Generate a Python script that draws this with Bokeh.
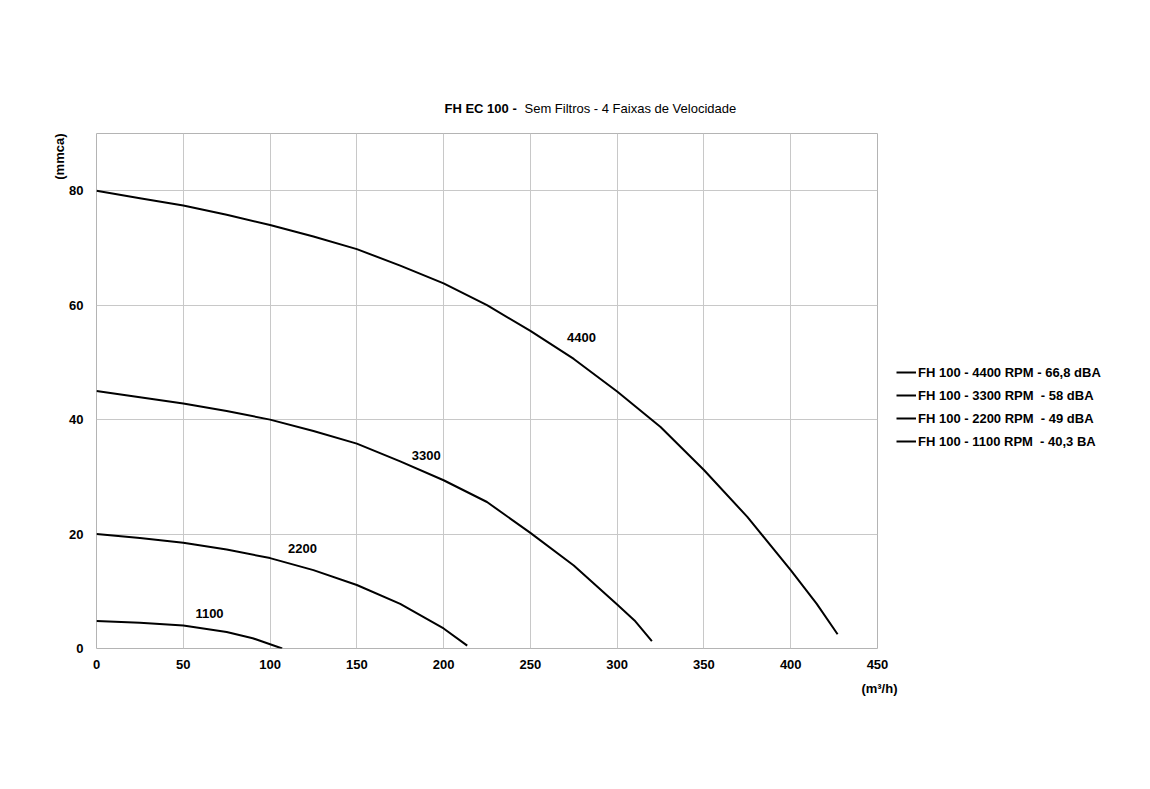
import math
from bokeh.plotting import figure
from bokeh.models import Range1d, FixedTicker, Label, Legend, LegendItem, Title
from bokeh.embed import file_html
from bokeh.resources import INLINE

# ---- data ----
x4400 = [0, 25, 50, 75, 100, 125, 150, 175, 200, 225, 250, 275, 300, 325, 350, 375, 400, 415, 427]
y4400 = [80.0, 78.7, 77.4, 75.8, 74.0, 72.0, 69.8, 66.9, 63.8, 60.0, 55.5, 50.6, 44.9, 38.7, 31.2, 23.0, 13.7, 7.8, 2.5]

x3300 = [0, 25, 50, 75, 100, 125, 150, 175, 200, 225, 250, 275, 300, 310, 320]
y3300 = [45.0, 43.9, 42.8, 41.5, 40.0, 38.0, 35.8, 32.7, 29.4, 25.6, 20.2, 14.5, 7.7, 4.9, 1.3]

x2200 = [0, 25, 50, 75, 100, 125, 150, 175, 200, 213.6]
y2200 = [20.0, 19.3, 18.5, 17.3, 15.8, 13.7, 11.1, 7.8, 3.5, 0.5]

x1100 = [0, 25, 50, 75, 90, 107]
y1100 = [4.8, 4.5, 4.0, 2.9, 1.8, 0.0]

curve_labels = ["4400", "3300", "2200", "1100"]
curve_label_x = [279.4, 190.0, 118.7, 65.1]
curve_label_y = [54.4, 33.8, 17.5, 6.1]

legend_labels = [
    "FH 100 - 4400 RPM - 66,8 dBA",
    "FH 100 - 3300 RPM  - 58 dBA",
    "FH 100 - 2200 RPM  - 49 dBA",
    "FH 100 - 1100 RPM  - 40,3 BA",
]

x_ticks = [0, 50, 100, 150, 200, 250, 300, 350, 400, 450]
y_ticks = [0, 20, 40, 60, 80]

title_bold = "FH EC 100 -"
title_rest = "Sem Filtros - 4 Faixas de Velocidade"
y_title = "(mmca)"
x_title = "(m³/h)"

FONT = "Liberation Sans"

p = figure(frame_width=781, frame_height=515, output_backend="svg", toolbar_location=None,
           x_range=Range1d(0, 450), y_range=Range1d(0, 90),
           min_border_left=96, min_border_top=133, min_border_right=10, min_border_bottom=100)
p.background_fill_color = "white"
p.border_fill_color = "white"
p.outline_line_color = "#b4b4b4"
p.outline_line_width = 1

for ax in (p.xaxis[0], p.yaxis[0]):
    ax.axis_line_color = None
    ax.major_tick_line_color = None
    ax.minor_tick_line_color = None
    ax.major_tick_out = 0
    ax.major_tick_in = 0
    ax.minor_tick_out = 0
    ax.minor_tick_in = 0
    ax.major_label_text_font = FONT
    ax.major_label_text_font_style = "bold"
    ax.major_label_text_font_size = "13px"
    ax.major_label_text_color = "black"
p.xaxis[0].ticker = FixedTicker(ticks=x_ticks)
p.yaxis[0].ticker = FixedTicker(ticks=y_ticks)
p.xaxis[0].major_label_standoff = 11
p.yaxis[0].major_label_standoff = 13

p.xgrid[0].ticker = FixedTicker(ticks=x_ticks)
p.ygrid[0].ticker = FixedTicker(ticks=y_ticks)
p.xgrid.grid_line_color = "#c8c8c8"
p.ygrid.grid_line_color = "#c8c8c8"

series = [(x4400, y4400), (x3300, y3300), (x2200, y2200), (x1100, y1100)]
renderers = []
for xs, ys in series:
    renderers.append(p.line(xs, ys, line_color="black", line_width=2, line_join="round"))

for t, lx, ly in zip(curve_labels, curve_label_x, curve_label_y):
    p.add_layout(Label(x=lx, y=ly, text=t, text_font=FONT, text_font_style="bold",
                       text_font_size="13px", text_align="center", text_baseline="middle",
                       text_color="black"))

# title: normal part nearest to frame, bold part pulled down to the same line
p.add_layout(Title(text=title_rest, align="left", offset=428, standoff=35, text_font=FONT,
                   text_font_style="normal", text_font_size="13px", text_color="black"), "above")
p.add_layout(Title(text=title_bold, align="left", offset=348, standoff=-69, text_font=FONT,
                   text_font_style="bold", text_font_size="13px", text_color="black"), "above")

# axis titles
p.add_layout(Title(text=y_title, align="right", text_font=FONT, text_font_style="bold",
                   text_font_size="13px", text_color="black", offset=0, standoff=0), "left")
p.add_layout(Title(text=x_title, align="right", text_font=FONT, text_font_style="bold",
                   text_font_size="13px", text_color="black", offset=-20, standoff=14), "below")

items = [LegendItem(label=l, renderers=[r]) for l, r in zip(legend_labels, renderers)]
legend = Legend(items=items, location=(19, 199), orientation="vertical",
                border_line_color=None, background_fill_color=None,
                label_text_font=FONT, label_text_font_style="bold", label_text_font_size="13px",
                label_text_color="black", glyph_width=20, glyph_height=16, label_height=16,
                label_standoff=2, spacing=7, padding=8, margin=17)
p.add_layout(legend, "right")

open("out.html", "w").write(file_html(p, INLINE))
